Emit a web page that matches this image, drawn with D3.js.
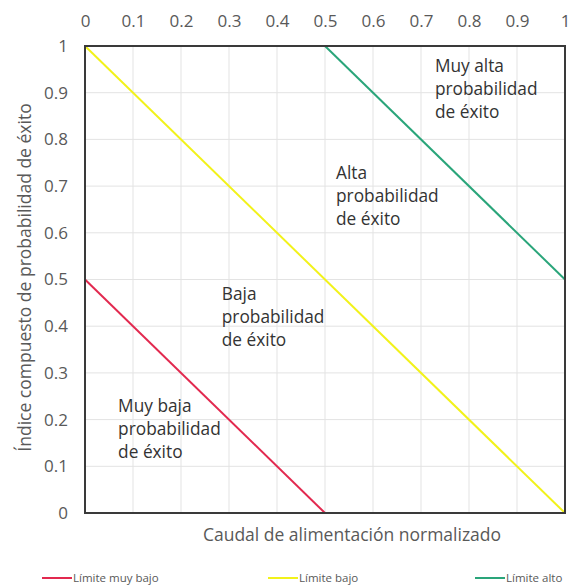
<!DOCTYPE html>
<html><head><meta charset="utf-8">
<script src="https://cdn.jsdelivr.net/npm/d3@7"></script>
<style>body{margin:0;background:#fff}svg{display:block}</style>
</head><body>
<script>
// Data
const xTicks = [0,0.1,0.2,0.3,0.4,0.5,0.6,0.7,0.8,0.9,1];
const yTicks = [0,0.1,0.2,0.3,0.4,0.5,0.6,0.7,0.8,0.9,1];
const xTickLabels = ["0","0.1","0.2","0.3","0.4","0.5","0.6","0.7","0.8","0.9","1"];
const yTickLabels = ["0","0.1","0.2","0.3","0.4","0.5","0.6","0.7","0.8","0.9","1"];
const seriesNames = ["Límite muy bajo","Límite bajo","Límite alto"];
const limiteMuyBajo = [[0,0.5],[0.5,0]];
const limiteBajo = [[0,1],[1,0]];
const limiteAlto = [[0.5,1],[1,0.5]];
const regionLabels = [
  {lines:["Muy alta","probabilidad","de éxito"], x:0.729, y:0.944},
  {lines:["Alta","probabilidad","de éxito"], x:0.523, y:0.715},
  {lines:["Baja","probabilidad","de éxito"], x:0.285, y:0.456},
  {lines:["Muy baja","probabilidad","de éxito"], x:0.069, y:0.216}
];
const xTitle = "Caudal de alimentación normalizado";
const yTitle = "Índice compuesto de probabilidad de éxito";

const W=575,H=587;
const m={left:85,right:10,top:46,bottom:74};
const svg=d3.select("body").append("svg").attr("width",W).attr("height",H);
const x=d3.scaleLinear().domain([0,1]).range([m.left,W-m.right]);
const y=d3.scaleLinear().domain([0,1]).range([H-m.bottom,m.top]);
const font="'Open Sans', sans-serif";
const textCol="#595959";

// grid
svg.append("g").selectAll("line").data(xTicks).join("line")
  .attr("x1",d=>x(d)).attr("x2",d=>x(d)).attr("y1",y(0)).attr("y2",y(1))
  .attr("stroke","#e3e3e3").attr("stroke-width",1);
svg.append("g").selectAll("line").data(yTicks).join("line")
  .attr("y1",d=>y(d)).attr("y2",d=>y(d)).attr("x1",x(0)).attr("x2",x(1))
  .attr("stroke","#e3e3e3").attr("stroke-width",1);

// axes
const xAxis=d3.axisTop(x).tickValues(xTicks).tickFormat((d,i)=>xTickLabels[i]).tickSize(0).tickPadding(19);
const gx=svg.append("g").attr("transform",`translate(0,${y(1)})`).call(xAxis);
gx.select(".domain").remove();
gx.selectAll("text").attr("font-family",font).attr("font-size",17).attr("fill",textCol);
const yAxis=d3.axisLeft(y).tickValues(yTicks).tickFormat((d,i)=>yTickLabels[i]).tickSize(0).tickPadding(17);
const gy=svg.append("g").attr("transform",`translate(${x(0)},0)`).call(yAxis);
gy.select(".domain").remove();
gy.selectAll("text").attr("font-family",font).attr("font-size",17).attr("fill",textCol);

// series
const line=d3.line().x(d=>x(d[0])).y(d=>y(d[1]));
const series=[limiteMuyBajo,limiteBajo,limiteAlto];
const colors=["#e2294f","#f2f21a","#2aa57a"];
svg.append("g").selectAll("path").data(series).join("path")
  .attr("d",line).attr("fill","none").attr("stroke",(d,i)=>colors[i]).attr("stroke-width",2);

// border
svg.append("rect").attr("x",x(0)).attr("y",y(1)).attr("width",x(1)-x(0)).attr("height",y(0)-y(1))
  .attr("fill","none").attr("stroke","#3a3a3a").attr("stroke-width",2);

// region labels
regionLabels.forEach(r=>{
  const t=svg.append("text").attr("font-family",font).attr("font-size",17.3).attr("fill","#333")
    .attr("x",x(r.x)).attr("y",y(r.y));
  r.lines.forEach((l,i)=>t.append("tspan").attr("x",x(r.x)).attr("dy",i?23:0).text(l));
});

// titles
svg.append("text").attr("x",352).attr("y",541).attr("text-anchor","middle")
  .attr("font-family",font).attr("font-size",17.5).attr("fill",textCol).text(xTitle);
svg.append("text").attr("transform",`translate(31,${(y(0)+y(1))/2-2}) rotate(-90)`).attr("text-anchor","middle")
  .attr("font-family",font).attr("font-size",17.5).attr("fill",textCol).text(yTitle);

// legend
const legX=[42,268,475];
const lg=svg.append("g").selectAll("g").data(seriesNames).join("g")
  .attr("transform",(d,i)=>`translate(${legX[i]},578)`);
lg.append("line").attr("x1",0).attr("x2",30).attr("y1",0).attr("y2",0)
  .attr("stroke",(d,i)=>colors[i]).attr("stroke-width",2);
lg.append("text").attr("x",31).attr("y",4).attr("font-family",font).attr("font-size",11.5)
  .attr("fill",textCol).text(d=>d);
</script>
</body></html>
